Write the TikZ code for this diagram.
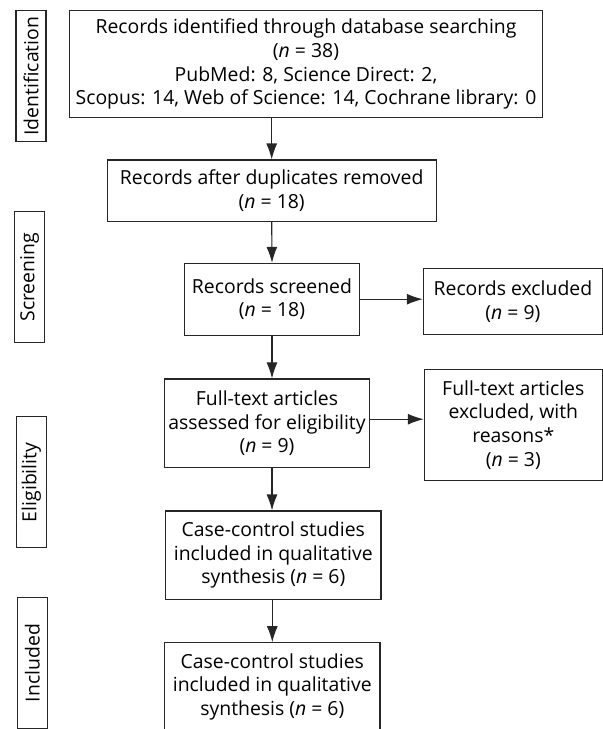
\documentclass[tikz,border=0pt]{standalone}
\usepackage{fontspec}
\setmainfont{Open Sans}
\usepackage{tikz}
\usetikzlibrary{arrows.meta}

\tikzset{
	box/.style={draw=black!85, line width=1.1pt, align=center, inner sep=0pt, font=\fontsize{19.4}{23.8}\selectfont},
	phase/.style={draw=black!85, line width=1.1pt, inner sep=0pt, rotate=90, minimum width=131, minimum height=30, font=\fontsize{19.4}{23.8}\selectfont},
	arr/.style={-{Latex[length=16pt,width=11pt]}, line width=1.1pt, draw=black!85}
}

\begin{document}
\begin{tikzpicture}[x=1pt,y=-1pt]
		\useasboundingbox (0,0) rectangle (603,729);
		\clip (0,0) rectangle (603,729);
		
		% phases on the left
		\node [phase] (lbid) at (31,76.2) {Identification};
		\node [phase] (lbscr) at (29.7,277.2) {Screening};
		\node [phase] (lbelig) at (31.3,482.4) {Eligibility};
		\node [phase] (lbinc) at (32.3,663) {Included};
		
		% main column
		\node [box, minimum width=472.6, minimum height=106.8] (idrec) at (306,64.1) {Records identified through database searching\\(\textit{n} = 38)\\PubMed: 8, Science Direct: 2,\\Scopus: 14, Web of Science: 14, Cochrane library: 0};
		\node [box, minimum width=328.7, minimum height=61.2] (nodup) at (271.7,190.6) {Records after duplicates removed\\(\textit{n} = 18)};
		\node [box, minimum width=175.3, minimum height=71.7] (screened) at (272,299.2) {Records screened\\(\textit{n} = 18)};
		\node [box, minimum width=205.4, minimum height=88.5] (fulltext) at (267,423.2) {Full-text articles\\assessed for eligibility\\(\textit{n} = 9)};
		\node [box, minimum width=215.3, minimum height=88.2] (casestud) at (273.3,555.1) {Case-control studies\\included in qualitative\\synthesis (\textit{n} = 6)};
		\node [box, minimum width=215.3, minimum height=88.2] (included) at (272.3,686.8) {Case-control studies\\included in qualitative\\synthesis (\textit{n} = 6)};
		
		% exclusions on the right
		\node [box, minimum width=179.2, minimum height=66] (excluded) at (512.9,301.3) {Records excluded\\(\textit{n} = 9)};
		\node [box, minimum width=178, minimum height=111.7] (ftexcl) at (513.3,424.9) {Full-text articles\\excluded, with\\reasons*\\(\textit{n} = 3)};
		
		\draw [arr] (nodup.north |- idrec.south) -- (nodup.north);
		\draw [arr] (nodup.south) -- (screened.north);
		\draw [arr] (screened.south) -- (screened.south |- fulltext.north);
		\draw [arr] (screened.east) -- (screened.east -| excluded.west);
		\draw [arr] ([yshift=4pt]fulltext.east) -- ([yshift=4pt]fulltext.east -| ftexcl.west);
		\draw [arr] (screened.south |- fulltext.south) -- (screened.south |- casestud.north);
		\draw [arr] (included.north |- casestud.south) -- (included.north);
\end{tikzpicture}
\end{document}
